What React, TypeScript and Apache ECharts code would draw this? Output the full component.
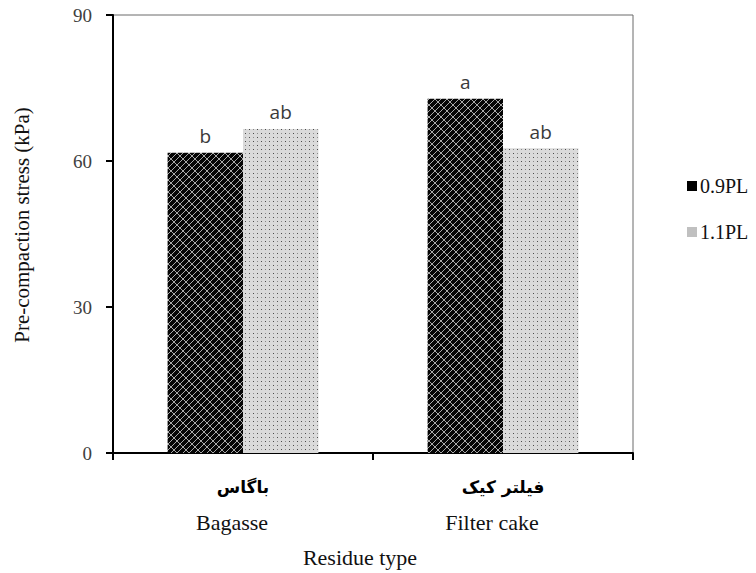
import React, { useEffect, useRef } from "react";
import * as echarts from "echarts";

const categoriesFa = ["باگاس", "فیلتر کیک"];
const categoriesEn = ["Bagasse", "Filter cake"];
const seriesNames = ["0.9PL", "1.1PL"];
const values09 = [61.7, 72.8];
const values11 = [66.6, 62.6];
const letters09 = ["b", "a"];
const letters11 = ["ab", "ab"];
const yTicks = [0, 30, 60, 90];

function brickPattern(): HTMLCanvasElement {
  const c = document.createElement("canvas");
  c.width = 12;
  c.height = 12;
  const ctx = c.getContext("2d")!;
  ctx.fillStyle = "#050505";
  ctx.fillRect(0, 0, 12, 12);
  ctx.strokeStyle = "#a8a8a8";
  ctx.lineWidth = 1;
  ctx.beginPath();
  for (let s = -24; s <= 48; s += 6) {
    ctx.moveTo(s + 30, -30);
    ctx.lineTo(s - 30, 30);
  }
  ctx.stroke();
  ctx.beginPath();
  for (let s = -24; s <= 36; s += 6) {
    const band = Math.round(s / 6);
    const off = ((band % 2) + 2) % 2 === 0 ? 0 : 3;
    for (let x0 = -36 + off; x0 <= 48; x0 += 6) {
      ctx.moveTo(x0, s - x0);
      ctx.lineTo(x0 + 3, s - x0 + 3);
    }
  }
  ctx.stroke();
  return c;
}

function dotPattern(): HTMLCanvasElement {
  const c = document.createElement("canvas");
  c.width = 8;
  c.height = 8;
  const ctx = c.getContext("2d")!;
  ctx.fillStyle = "#dadada";
  ctx.fillRect(0, 0, 8, 8);
  ctx.fillStyle = "#4a4a4a";
  ctx.fillRect(1, 1, 1, 1);
  ctx.fillRect(5, 5, 1, 1);
  ctx.fillStyle = "#8a8a8a";
  ctx.fillRect(5, 1, 1, 1);
  ctx.fillRect(1, 5, 1, 1);
  return c;
}

export default function App() {
  const ref = useRef<HTMLDivElement>(null);
  useEffect(() => {
    if (!ref.current) return;
    const chart = echarts.init(ref.current, null, { renderer: "svg" });
    const serif = "Liberation Serif";
    const labelFont = {
      show: true,
      position: "top" as const,
      distance: 7,
      fontFamily: "Open Sans",
      fontSize: 19,
      color: "#3a3a3a",
    };
    chart.setOption({
      animation: false,
      backgroundColor: "#ffffff",
      grid: { left: 113, top: 15, right: 123, bottom: 115, show: true, borderColor: "#6b6b6b", borderWidth: 1 },
      legend: {
        orient: "vertical",
        left: 687,
        top: 176,
        padding: 0,
        itemWidth: 10,
        itemHeight: 10,
        itemGap: 26,
        icon: "rect",
        textStyle: { fontFamily: serif, fontSize: 20, color: "#111", padding: [0, 0, 0, -2] },
        data: [
          { name: seriesNames[0], itemStyle: { color: "#000000" } },
          { name: seriesNames[1], itemStyle: { color: "#c0c0c0" } },
        ],
      },
      xAxis: {
        type: "category",
        data: categoriesEn.map((e, i) => categoriesFa[i] + "\n" + e),
        name: "Residue type",
        nameLocation: "middle",
        nameGap: 93,
        nameTextStyle: { fontFamily: serif, fontSize: 22, color: "#111", padding: [0, 26, 0, 0] },
        axisLine: { lineStyle: { color: "#000", width: 2 } },
        axisTick: { show: true, length: 7, lineStyle: { color: "#000", width: 2 } },
        axisLabel: {
          margin: 19,
          formatter: (v: string) => {
            const [fa, en] = v.split("\n");
            return "{fa|" + fa + "}\n{en|" + en + "}";
          },
          rich: {
            fa: { fontFamily: "DejaVu Sans", fontWeight: "bold", fontSize: 17, color: "#000", lineHeight: 30 },
            en: { fontFamily: serif, fontSize: 22, color: "#111", lineHeight: 40, padding: [0, 22, 0, 0] },
          },
        },
      },
      yAxis: {
        type: "value",
        min: yTicks[0],
        max: yTicks[yTicks.length - 1],
        interval: 30,
        name: "Pre-compaction stress (kPa)",
        nameLocation: "middle",
        nameGap: 81,
        nameTextStyle: { fontFamily: serif, fontSize: 21, color: "#111", padding: [0, 0, 0, 18] },
        axisLine: { show: true, lineStyle: { color: "#000", width: 2 } },
        axisTick: { show: true, length: 7, lineStyle: { color: "#000", width: 2 } },
        axisLabel: { margin: 21, fontFamily: serif, fontSize: 19, color: "#404040" },
        splitLine: { show: false },
      },
      series: [
        {
          name: seriesNames[0],
          type: "bar",
          data: values09,
          barGap: "0%",
          barCategoryGap: "42%",
          itemStyle: { color: { image: brickPattern(), repeat: "repeat" } as any },
          label: { ...labelFont, formatter: (p: any) => letters09[p.dataIndex] },
        },
        {
          name: seriesNames[1],
          type: "bar",
          data: values11,
          itemStyle: { color: { image: dotPattern(), repeat: "repeat" } as any },
          label: { ...labelFont, formatter: (p: any) => letters11[p.dataIndex] },
        },
      ],
    });
    return () => chart.dispose();
  }, []);
  return <div ref={ref} style={{ width: 756, height: 573, position: "absolute", left: 0, top: 0 }} />;
}
